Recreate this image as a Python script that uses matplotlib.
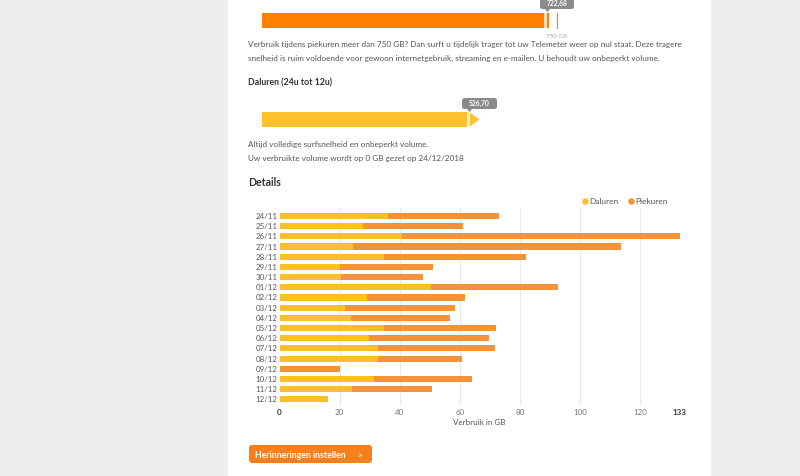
import matplotlib
matplotlib.use('Agg')
import matplotlib.pyplot as plt
from matplotlib.patches import Rectangle, FancyBboxPatch, Polygon

plt.rcParams['font.family'] = ['Lato', 'DejaVu Sans']

# ---------------- DATA ---------------- #
days = ['24/11', '25/11', '26/11', '27/11', '28/11', '29/11', '30/11', '01/12',
        '02/12', '03/12', '04/12', '05/12', '06/12', '07/12', '08/12', '09/12',
        '10/12', '11/12', '12/12']
daluren = [36.1, 27.7, 40.8, 24.3, 34.6, 20.2, 20.3, 50.5, 29.1, 21.9,
           23.7, 34.9, 29.6, 32.7, 32.8, 0.0, 31.3, 24.1, 16.1]
piekuren = [36.9, 33.2, 92.4, 89.4, 47.5, 30.8, 27.3, 42.2, 32.6, 36.3,
            33.0, 37.2, 39.9, 38.8, 27.8, 20.2, 32.6, 26.5, 0.0]
x_ticks = [0, 20, 40, 60, 80, 100, 120, 133]

piek_total = 722.68
dal_total = 526.70
piek_limit = 750
piek_label = '722,68'
dal_label = '526,70'

# ---------------- COLORS ---------------- #
C_DAL = '#fcbf2a'
C_PIEK = '#f39238'
C_ORANGE = '#ff7f00'
C_YELLOW = '#fdc12b'
C_TEXT = '#555555'
C_DARK = '#333333'
C_GRAY_BG = '#eeeeee'

fig = plt.figure(figsize=(8, 4.76), dpi=100)

# ---------------- PAGE BACKGROUND ---------------- #
page = fig.add_axes([0, 0, 1, 1])
page.set_xlim(0, 800)
page.set_ylim(476, 0)
page.axis('off')
page.add_patch(Rectangle((0, 0), 228, 476, color=C_GRAY_BG, lw=0))
page.add_patch(Rectangle((711, 0), 89, 476, color=C_GRAY_BG, lw=0))

fs_body = 5.9
page.text(248, 45, 'Verbruik tijdens piekuren meer dan 750 GB? Dan surft u tijdelijk trager tot uw '
          'Telemeter weer op nul staat. Deze tragere', fontsize=fs_body, color=C_TEXT, va='center')
page.text(248, 58, 'snelheid is ruim voldoende voor gewoon internetgebruik, streaming en e-mailen. '
          'U behoudt uw onbeperkt volume.', fontsize=fs_body, color=C_TEXT, va='center')
page.text(248, 83, 'Daluren (24u tot 12u)', fontsize=6.3, color=C_DARK, weight='bold', va='center')
page.text(248, 145, 'Altijd volledige surfsnelheid en onbeperkt volume.', fontsize=fs_body,
          color=C_TEXT, va='center')
page.text(248, 158, 'Uw verbruikte volume wordt op 0 GB gezet op 24/12/2018', fontsize=fs_body,
          color=C_TEXT, va='center')
page.text(248, 182, 'Details', fontsize=7.6, color=C_DARK, weight='bold', va='center')

# legend
page.scatter([585], [201], s=22, color=C_DAL, lw=0)
page.text(589.5, 201, 'Daluren', fontsize=6.0, color=C_TEXT, va='center')
page.scatter([631], [201], s=22, color=C_PIEK, lw=0)
page.text(635.5, 201, 'Piekuren', fontsize=6.0, color=C_TEXT, va='center')

# button
page.add_patch(FancyBboxPatch((249, 445), 123, 18, boxstyle='round,pad=0,rounding_size=3',
                              color='#f7801c', lw=0))
page.text(255, 455, 'Herinneringen instellen', fontsize=6.3, color='white', weight='bold',
          va='center')
page.text(357, 455.5, '>', fontsize=6.0, color='white', weight='bold', va='center')

# ---------------- PROGRESS BARS ---------------- #
def progress(y_top, total, color, arrow):
    ax = fig.add_axes([262 / 800, 1 - (y_top + 15) / 476, 295 / 800, 15 / 476])
    ax.set_xlim(0, piek_limit)
    ax.set_ylim(0, 1)
    ax.axis('off')
    ax.add_patch(FancyBboxPatch((0, 0), total, 1, boxstyle='round,pad=0,rounding_size=0.3',
                                mutation_aspect=1 / 38, color=color, lw=0, clip_on=False))
    ax.add_patch(Rectangle((total - 20, 0), 20, 1, color=color, lw=0))
    for dx in (-6, -3.5, -1):
        ax.plot([total + dx, total + dx], [0, 1], color='white', lw=0.6, alpha=0.9)
    if arrow:
        ax.add_patch(Polygon([[total, 0], [total, 1], [total + 26, 0.5]], color=color, lw=0,
                             clip_on=False))
    return ax

ax_p = progress(13, piek_total, C_ORANGE, False)
ax_p.add_patch(Rectangle((piek_total, 0), 8, 1, color=C_ORANGE, lw=0))
ax_p.plot([piek_limit, piek_limit], [0, 1], color=C_ORANGE, lw=0.8, clip_on=False)
ax_p.text(piek_limit, -0.55, '750 GB', fontsize=4.5, color='#aaaaaa', ha='center', va='center')

ax_d = progress(112, dal_total, C_YELLOW, True)

# tooltips
page.add_patch(FancyBboxPatch((540, -4), 34, 13, boxstyle='round,pad=0,rounding_size=2.5',
                              color='#8a8a8a', lw=0))
page.add_patch(Polygon([[545, 9], [550, 9], [547.5, 12]], color='#8a8a8a', lw=0))
page.text(557, 3.5, piek_label, fontsize=4.8, color='white', weight='bold', ha='center',
          va='center')
page.add_patch(FancyBboxPatch((462, 98), 35, 11, boxstyle='round,pad=0,rounding_size=2.5',
                              color='#8a8a8a', lw=0))
page.add_patch(Polygon([[467, 109], [472, 109], [469.5, 112]], color='#8a8a8a', lw=0))
page.text(479.5, 103.5, dal_label, fontsize=4.8, color='white', weight='bold', ha='center',
          va='center')

# ---------------- DETAILS CHART ---------------- #
ax = fig.add_axes([279.5 / 800, 1 - 405 / 476, 400 / 800, 197 / 476])
ypos = list(range(len(days)))
ax.barh(ypos, daluren, height=0.6, color=C_DAL, lw=0, zorder=3)
ax.barh(ypos, piekuren, left=daluren, height=0.6, color=C_PIEK, lw=0, zorder=3)
ax.set_xlim(0, 133)
ax.set_ylim(18.56, -0.786)
ax.set_yticks(ypos)
ax.set_yticklabels(days, fontsize=5.7, color=C_TEXT)
ax.set_xticks(x_ticks)
ax.set_xticklabels([str(t) for t in x_ticks], fontsize=5.8, color='#777777')
for lbl in (ax.get_xticklabels()[0], ax.get_xticklabels()[-1]):
    lbl.set_weight('bold')
    lbl.set_color(C_DARK)
ax.tick_params(length=0, pad=1.5)
ax.tick_params(axis='x', pad=3)
for t in x_ticks[1:-1]:
    ax.axvline(t, color='#e8e8e8', lw=0.7, zorder=0)
for s in ax.spines.values():
    s.set_visible(False)
ax.set_xlabel('Verbruik in GB', fontsize=5.8, color=C_TEXT, labelpad=2)

fig.savefig('out.png', dpi=100)
